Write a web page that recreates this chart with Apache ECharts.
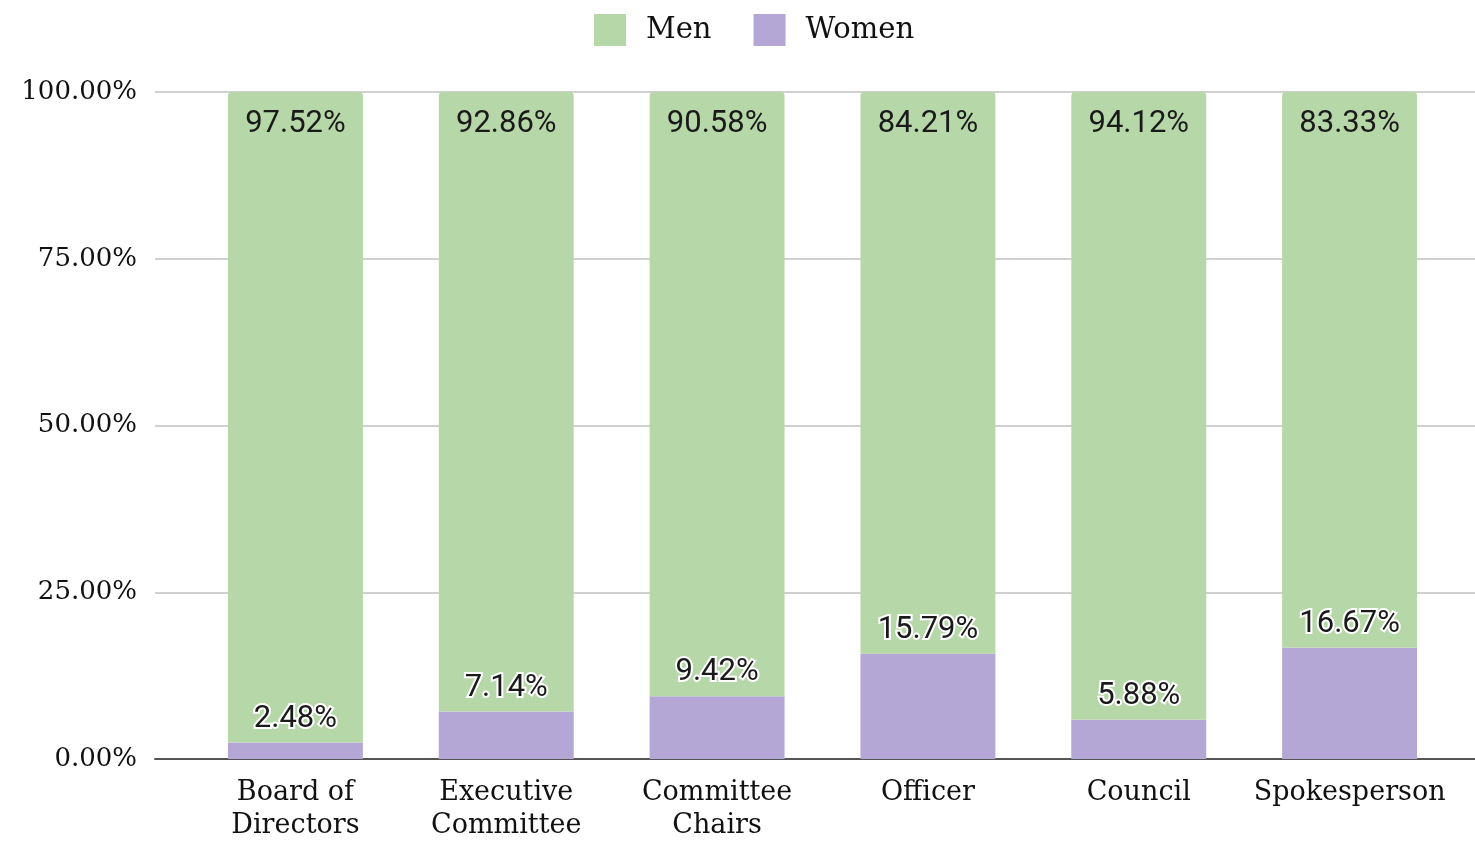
<!DOCTYPE html>
<html><head><meta charset="utf-8">
<script src="https://cdn.jsdelivr.net/npm/echarts@6/dist/echarts.min.js"></script>
<style>html,body{margin:0;padding:0;background:#fff}#c{width:1475px;height:842px}</style>
</head><body><div id="c"></div>
<script>
const categories = ['Board of\nDirectors', 'Executive\nCommittee', 'Committee\nChairs', 'Officer', 'Council', 'Spokesperson'];
const men = [97.52, 92.86, 90.58, 84.21, 94.12, 83.33];
const women = [2.48, 7.14, 9.42, 15.79, 5.88, 16.67];
const yTicks = [0, 25, 50, 75, 100];

const serif = 'DejaVu Serif';
const chart = echarts.init(document.getElementById('c'));
chart.setOption({
  animation: false,
  legend: {
    top: 9, left: 589, itemWidth: 32, itemHeight: 32, itemGap: 42,
    textStyle: { fontFamily: serif, fontSize: 29, color: '#111', padding: [0,0,0,15] },
    data: ['Men', 'Women'],
    icon: 'rect'
  },
  grid: [
    { left: 155, right: 0, top: 92, bottom: 83 },
    { left: 190, right: 20, top: 92, bottom: 83 }
  ],
  xAxis: [
    { type: 'category', gridIndex: 0, data: [''], axisLine: { lineStyle: { color: '#555', width: 2 } }, axisTick: { show: false }, axisLabel: { show: false } },
    { type: 'category', gridIndex: 1, data: categories, axisLine: { show: false }, axisTick: { show: false },
      axisLabel: { fontFamily: serif, fontSize: 27, color: '#111', lineHeight: 33, margin: 17, interval: 0 } }
  ],
  yAxis: [
    { type: 'value', gridIndex: 0, min: yTicks[0], max: yTicks[yTicks.length-1], interval: yTicks[1]-yTicks[0],
      axisLine: { show: false }, axisTick: { show: false },
      splitLine: { lineStyle: { color: '#d0d0d0', width: 2 } },
      axisLabel: { fontFamily: serif, fontSize: 26, color: '#111', margin: 18, formatter: v => v.toFixed(2) + '%' } },
    { type: 'value', gridIndex: 1, min: 0, max: 100, show: false }
  ],
  series: [
    { name: 'Women', type: 'bar', stack: 's', xAxisIndex: 1, yAxisIndex: 1, data: women, barWidth: '64%',
      itemStyle: { color: '#b4a7d6' },
      label: { show: true, position: 'top', distance: 8, fontFamily: 'Roboto', fontSize: 31, color: '#1a1a1a',
        textBorderColor: '#fff', textBorderWidth: 4, formatter: p => p.value.toFixed(2) + '%' } },
    { name: 'Men', type: 'bar', stack: 's', xAxisIndex: 1, yAxisIndex: 1, data: men, barWidth: '64%',
      itemStyle: { color: '#b6d7a8', borderRadius: [4,4,0,0] },
      label: { show: true, position: 'insideTop', distance: 17, fontFamily: 'Roboto', fontSize: 31, color: '#1a1a1a',
        formatter: p => p.value.toFixed(2) + '%' } }
  ]
});
</script></body></html>
